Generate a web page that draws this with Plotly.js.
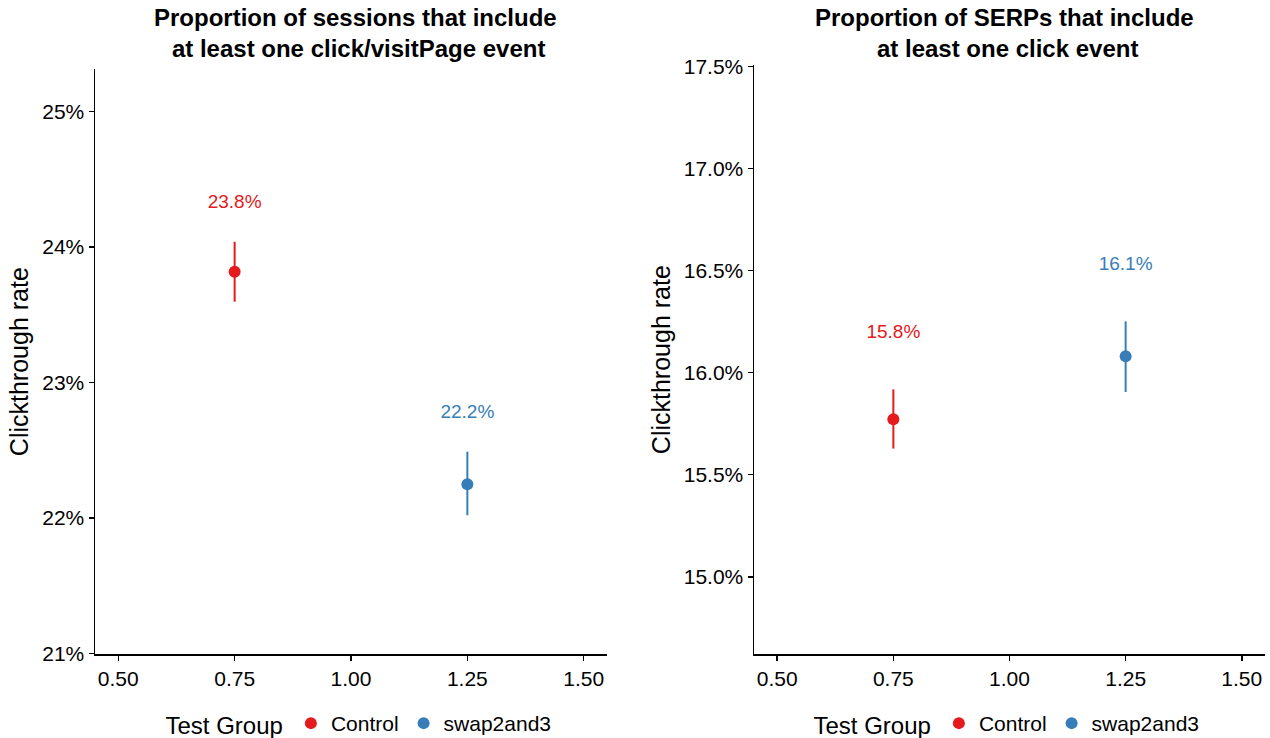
<!DOCTYPE html>
<html>
<head>
<meta charset="utf-8">
<script src="https://cdn.plot.ly/plotly-3.0.1.min.js"></script>
<style>html,body{margin:0;padding:0;background:#fff}#chart{width:1270px;height:738px}</style>
</head>
<body>
<div id="chart"></div>
<script>
// ---- data ----
const groups = ['Control', 'swap2and3'];
const xPos = [0.75, 1.25];
const sessMean = [0.23816, 0.22247];
const sessLower = [0.23595, 0.22019];
const sessUpper = [0.24037, 0.22488];
const serpMean = [0.15772, 0.16080];
const serpLower = [0.15628, 0.15905];
const serpUpper = [0.15918, 0.16251];
const xTicks = [0.5, 0.75, 1.0, 1.25, 1.5];
const colors = ['#E41A1C', '#377EB8'];
const titles = ['Proportion of sessions that include<br> at least one click/visitPage event',
                'Proportion of SERPs that include<br> at least one click event'];

const FONT = 'Liberation Sans, Arial, Helvetica, sans-serif';
const traces = [];
function addPanel(mean, lower, upper, xa, ya, legendId, labelOffset) {
  groups.forEach((g, i) => {
    traces.push({
      type: 'scatter', mode: 'markers', name: g,
      x: [xPos[i]], y: [mean[i]], xaxis: xa, yaxis: ya, legend: legendId,
      marker: {color: colors[i], size: 12},
      error_y: {type: 'data', symmetric: false, array: [upper[i] - mean[i]], arrayminus: [mean[i] - lower[i]],
                color: colors[i], thickness: 2, width: 0},
      hoverinfo: 'skip'
    });
    traces.push({
      type: 'scatter', mode: 'text', showlegend: false,
      x: [xPos[i]], y: [upper[i] + labelOffset], xaxis: xa, yaxis: ya,
      text: [(Math.floor(mean[i] * 1000 + 0.5) / 10).toFixed(1) + '%'],
      textposition: 'middle center',
      textfont: {family: FONT, size: 19, color: colors[i]},
      hoverinfo: 'skip'
    });
  });
}
addPanel(sessMean, sessLower, sessUpper, 'x', 'y', 'legend', 0.00287);
addPanel(serpMean, serpLower, serpUpper, 'x2', 'y2', 'legend2', 0.00275);

const axisCommon = {
  showline: true, linecolor: '#000', linewidth: 1.5, mirror: false,
  ticks: 'outside', ticklen: 5, tickwidth: 1.5, tickcolor: '#000',
  showgrid: false, zeroline: false,
  tickfont: {family: FONT, size: 21, color: '#000'}
};
const xCommon = Object.assign({}, axisCommon, {
  range: [0.45, 1.55], tickvals: xTicks, ticktext: xTicks.map(v => v.toFixed(2))
});
const yTitle = {text: 'Clickthrough rate', font: {family: FONT, size: 25, color: '#000'}, standoff: 6};

const legendCommon = {
  orientation: 'h', yanchor: 'middle', xanchor: 'center', y: 0.019,
  title: {text: 'Test Group', side: 'left', font: {family: FONT, size: 24, color: '#000'}},
  font: {family: FONT, size: 21, color: '#000'},
  bgcolor: 'rgba(0,0,0,0)', itemwidth: 30, tracegroupgap: 0
};

const layout = {
  width: 1270, height: 738,
  margin: {l: 0, r: 0, t: 0, b: 0, autoexpand: false},
  paper_bgcolor: '#fff', plot_bgcolor: '#fff',
  font: {family: FONT, color: '#000'},
  xaxis: Object.assign({}, xCommon, {domain: [95 / 1270, 607 / 1270], anchor: 'y'}),
  yaxis: Object.assign({}, axisCommon, {domain: [1 - 654 / 738, 1 - 69.3 / 738], anchor: 'x',
    range: [0.20995, 0.2531], tickvals: [0.21, 0.22, 0.23, 0.24, 0.25], tickformat: '.0%', title: yTitle}),
  xaxis2: Object.assign({}, xCommon, {domain: [754 / 1270, 1265 / 1270], anchor: 'y2'}),
  yaxis2: Object.assign({}, axisCommon, {domain: [1 - 654 / 738, 1 - 65.3 / 738], anchor: 'x2',
    range: [0.14622, 0.17505], tickvals: [0.15, 0.155, 0.16, 0.165, 0.17, 0.175], tickformat: '.1%', title: yTitle}),
  legend: Object.assign({}, legendCommon, {x: 360 / 1270}),
  legend2: Object.assign({}, legendCommon, {x: 1008 / 1270}),
  annotations: [
    {text: '<b>' + titles[0] + '</b>', xref: 'paper', yref: 'paper', x: 355 / 1270, y: 1 - 33 / 738,
     xanchor: 'center', yanchor: 'middle', showarrow: false, font: {family: FONT, size: 24, color: '#000'}},
    {text: '<b>' + titles[1] + '</b>', xref: 'paper', yref: 'paper', x: 1004 / 1270, y: 1 - 33 / 738,
     xanchor: 'center', yanchor: 'middle', showarrow: false, font: {family: FONT, size: 24, color: '#000'}}
  ],
  showlegend: true
};

Plotly.newPlot('chart', traces, layout, {displayModeBar: false, staticPlot: true});
</script>
</body>
</html>
